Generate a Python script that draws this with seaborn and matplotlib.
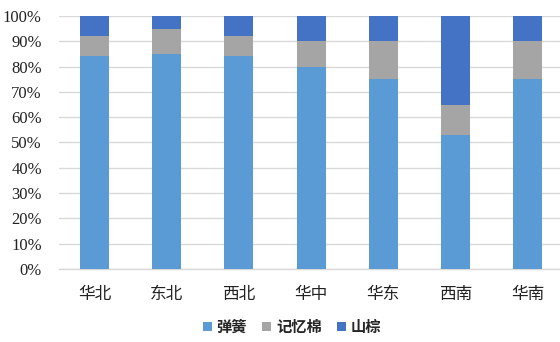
import matplotlib
matplotlib.use("Agg")
import matplotlib.pyplot as plt
import seaborn as sns
import pandas as pd
import numpy as np
from matplotlib.patches import Patch

regions = ["华北", "东北", "西北", "华中", "华东", "西南", "华南"]
spring = [84, 85, 84, 80, 75, 53, 75]
memory = [8, 10, 8, 10, 15, 12, 15]
palm = [8, 5, 8, 10, 10, 35, 10]
series_names = ["弹簧", "记忆棉", "山棕"]
colors = ["#5B9BD5", "#A5A5A5", "#4472C4"]

sns.set_theme(style="white")
plt.rcParams['font.family'] = ['Noto Sans CJK SC', 'DejaVu Sans']

fig = plt.figure(figsize=(5.6, 3.42), dpi=100)
ax = fig.add_axes([58.5/560, 0.2135, 505.2/560, 0.7398])

df = pd.DataFrame({"region": regions, "spring": spring, "memory": memory, "palm": palm})
df["c1"] = df["spring"]
df["c2"] = df["spring"] + df["memory"]
df["c3"] = df["c2"] + df["palm"]

for col, color in zip(["c3", "c2", "c1"], colors[::-1]):
    sns.barplot(data=df, x="region", y=col, color=color, width=0.4, ax=ax,
                saturation=1, edgecolor="none", zorder=3)

ax.set_ylim(0, 100)
ax.set_xlim(-0.5, 6.5)
ax.set_yticks(np.arange(0, 101, 10))
ax.set_yticklabels([f"{v}%" for v in range(0, 101, 10)],
                   fontfamily="Liberation Serif", fontsize=12, color="#222222")
ax.set_xticklabels(regions, fontfamily="Noto Sans CJK SC", fontsize=12, color="#222222")
ax.set_xlabel("")
ax.set_ylabel("")
ax.yaxis.grid(True, color="#D9D9D9", linewidth=1, zorder=0)
ax.tick_params(axis="y", length=0, pad=12)
ax.tick_params(axis="x", length=0, pad=12)
for s in ["top", "right", "left"]:
    ax.spines[s].set_visible(False)
ax.spines["bottom"].set_color("#D9D9D9")
ax.spines["bottom"].set_linewidth(1)

handles = [Patch(facecolor=c, edgecolor="none") for c in colors]
fig.legend(handles, series_names, loc="center", bbox_to_anchor=(292/560, 1 - 327/342),
           ncol=3, frameon=False, handlelength=0.6, handleheight=0.6,
           handletextpad=0.3, columnspacing=1.0,
           prop={"family": "Noto Sans CJK SC", "size": 11, "weight": "bold"})

fig.savefig("out.png", dpi=100)
